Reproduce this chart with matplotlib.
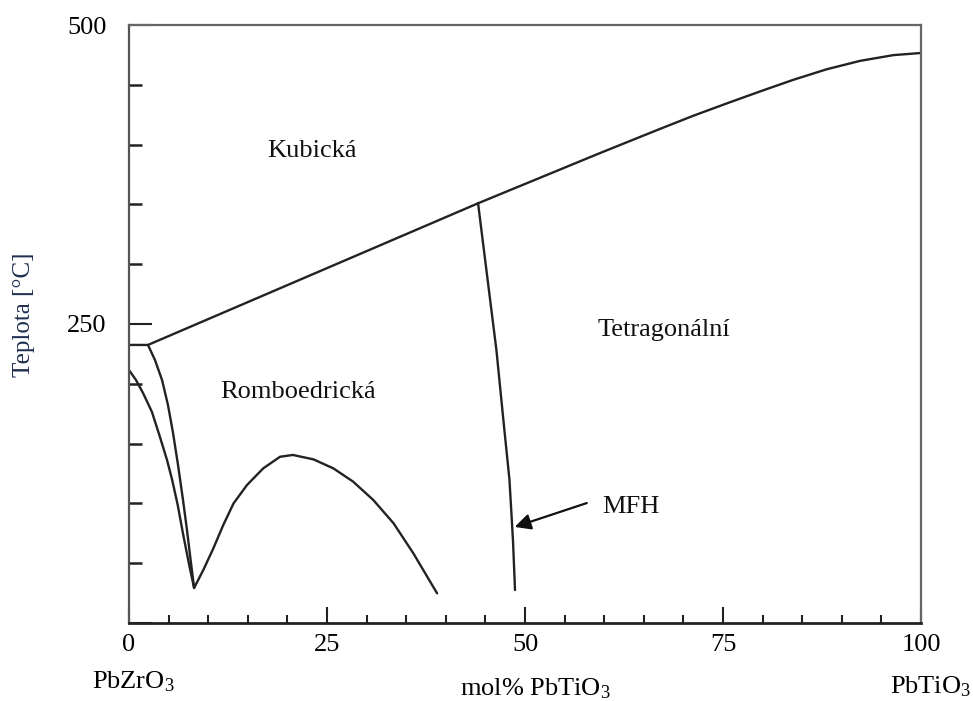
import matplotlib
matplotlib.use("Agg")
import matplotlib.pyplot as plt
from matplotlib.ticker import MultipleLocator, FixedLocator

plt.rcParams['font.family'] = ['Liberation Serif', 'DejaVu Serif']
plt.rcParams['mathtext.fontset'] = 'custom'
plt.rcParams['mathtext.rm'] = 'Liberation Serif'
plt.rcParams['mathtext.it'] = 'Liberation Serif:italic'

# ---- data (mol% PbTiO3, temperature in °C) ----
cubic_x = [0, 2.4, 44.1, 59.5, 67, 71.2, 75.5, 79.7, 83.8, 88.1, 92.3, 96.5, 100]
cubic_t = [232.5, 232.5, 351, 393, 413, 424, 434.5, 444.5, 454, 463, 470, 474.8, 476.6]

rhombo_x = [2.4, 3.28, 4.17, 4.92, 5.56, 6.19, 6.82, 7.32, 7.78, 8.22]
rhombo_t = [232.4, 219.9, 203.2, 182.3, 158.9, 132.1, 102.8, 77.8, 52.7, 29.3]

afe_x = [0, 0.88, 1.77, 2.90, 3.91, 4.80, 5.45, 6.15, 6.85, 7.60, 8.22]
afe_t = [211.5, 203.2, 192.3, 176.4, 155.5, 136.3, 119.6, 98.7, 73.6, 48.5, 29.3]

dome_x = [8.22, 9.38, 10.65, 11.9, 13.2, 14.9, 16.95, 19.07, 20.7, 23.3,
          25.8, 28.3, 30.85, 33.4, 35.9, 38.9]
dome_t = [29.3, 44.3, 62.4, 81.9, 100, 115.4, 129.3, 139, 140.5, 136.8,
          129.3, 118.2, 102.8, 83.4, 58.3, 24.8]

mpb_x = [44.07, 45.33, 46.39, 47.27, 48.04, 48.48, 48.74]
mpb_t = [351.2, 284.3, 228.3, 169.7, 119.6, 69.4, 27.6]

phase_labels = ["Kubická", "Romboedrická", "Tetragonální"]
phase_x = [17.4, 11.5, 59.2]
phase_t = [389.6, 188, 240]

arrow_label = "MFH"
arrow_tail = (57.8, 100.3)
arrow_head = (48.7, 80.3)

x_ticks = [0, 25, 50, 75, 100]
x_ticklabels = ["0", "25", "50", "75", "100"]
y_ticks = [0, 250, 500]
y_ticklabels = ["", "250", "500"]

# ---- figure ----
fig = plt.figure(figsize=(9.73, 7.01), dpi=100)
ax = fig.add_axes([129/973, 1-623/701, (921-129)/973, (623-25)/701])
ax.set_xlim(0, 100)
ax.set_ylim(0, 500)

lc = '#222222'
lw = 1.7
for xs, ts in [(cubic_x, cubic_t), (rhombo_x, rhombo_t), (afe_x, afe_t),
               (dome_x, dome_t), (mpb_x, mpb_t)]:
    ax.plot(xs, ts, color=lc, lw=lw, solid_joinstyle='round',
            solid_capstyle='round', clip_on=False)

fs = 19
for lab, x, t in zip(phase_labels, phase_x, phase_t):
    ax.text(x, t, lab, fontsize=fs, ha='left', va='baseline', color='#111111')

ax.annotate("", xy=arrow_head, xytext=arrow_tail,
            arrowprops=dict(arrowstyle='-|>', mutation_scale=24, lw=1.6,
                            color='#111111', shrinkA=0, shrinkB=0))
ax.text(59.8, 92, arrow_label, fontsize=fs, ha='left', va='baseline', color='#111111')

# ticks
ax.xaxis.set_major_locator(FixedLocator(x_ticks))
ax.set_xticklabels(x_ticklabels)
ax.xaxis.set_minor_locator(MultipleLocator(5))
ax.yaxis.set_major_locator(FixedLocator(y_ticks))
ax.set_yticklabels(y_ticklabels)
ax.yaxis.set_minor_locator(MultipleLocator(50))

ax.tick_params(axis='x', which='major', direction='in', length=11.5, width=1.5,
               color='#222222', labelsize=fs, pad=8)
ax.tick_params(axis='x', which='minor', direction='in', length=6, width=1.5,
               color='#222222')
ax.tick_params(axis='y', which='major', direction='in', length=16.5, width=1.5,
               color='#222222', labelsize=fs, pad=16)
ax.tick_params(axis='y', which='minor', direction='in', length=9.5, width=1.8,
               color='#222222')

ax.spines['bottom'].set_color('#222222')
ax.spines['bottom'].set_linewidth(2.0)
ax.spines['left'].set_color('#555555')
ax.spines['left'].set_linewidth(1.6)
for s in ['top', 'right']:
    ax.spines[s].set_color('#666666')
    ax.spines[s].set_linewidth(1.6)

# axis texts
fig.text(24/973, 1-315/701, "Teplota [°C]", rotation=90, fontsize=18,
         ha='center', va='center', color='#1f2f4f')
fig.text(133/973, 1-688/701, "PbZrO$_3$", fontsize=fs, ha='center', va='baseline')
fig.text(535/973, 1-695/701, "mol% PbTiO$_3$", fontsize=fs, ha='center', va='baseline')
fig.text(931/973, 1-693/701, "PbTiO$_3$", fontsize=fs, ha='center', va='baseline')

fig.savefig("out.png", dpi=100, facecolor='white')
